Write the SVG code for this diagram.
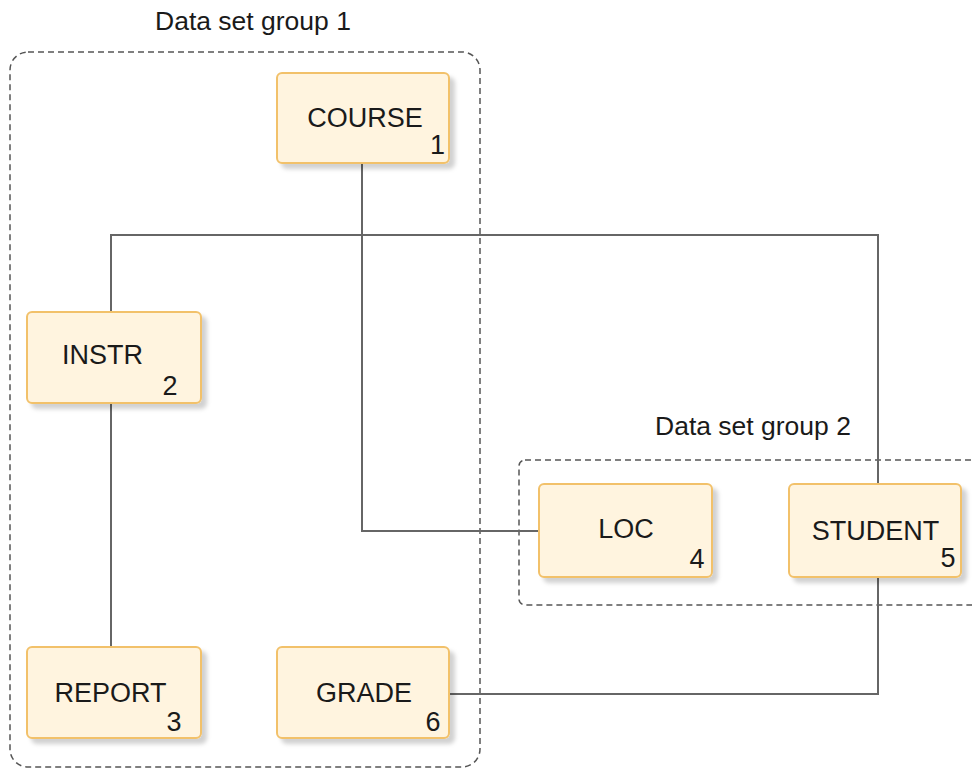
<svg xmlns="http://www.w3.org/2000/svg" width="972" height="771" viewBox="0 0 972 771">
<style>
.grp{fill:none;stroke:#555;stroke-width:1.5;stroke-dasharray:6 4}
.box{fill:#fff4df;stroke:#f2c16a;stroke-width:2}
.lbl{font-family:"Liberation Sans",Arial,sans-serif;font-size:26.5px;fill:#1a1a1a}
.n{font-size:27px}
.c{text-anchor:middle}
.e{text-anchor:end}
.conn{fill:none;stroke:#666;stroke-width:2}
</style>
<defs>
<filter id="sh" x="-10%" y="-10%" width="130%" height="140%">
<feDropShadow dx="5" dy="5" stdDeviation="2" flood-color="#000" flood-opacity="0.18"/>
</filter>
</defs>
<rect width="972" height="771" fill="#fff"/>
<g id="group1">
<rect class="grp" x="10" y="52" width="470" height="715" rx="18"/>
<text class="lbl" x="155" y="30">Data set group 1</text>
</g>
<g id="group2">
<rect class="grp" x="519" y="460" width="480" height="145" rx="6"/>
<text class="lbl" x="655" y="435">Data set group 2</text>
</g>
<g id="connectors">
<polyline class="conn" points="362,163 362,531 539,531"/>
<polyline class="conn" points="111,312 111,235 878,235 878,484"/>
<polyline class="conn" points="111,404 111,647"/>
<polyline class="conn" points="878,577 878,694 449,694"/>
</g>
<g id="course">
<rect class="box" x="277" y="73" width="172" height="90" rx="5" filter="url(#sh)"/>
<text class="lbl n c" x="365" y="127">COURSE</text>
<text class="lbl n e" x="445" y="154">1</text>
</g>
<g id="instr">
<rect class="box" x="27" y="312" width="174" height="91" rx="5" filter="url(#sh)"/>
<text class="lbl n c" x="102.5" y="364">INSTR</text>
<text class="lbl n e" x="177.5" y="395">2</text>
</g>
<g id="report">
<rect class="box" x="27" y="647" width="174" height="91" rx="5" filter="url(#sh)"/>
<text class="lbl n c" x="110.5" y="702">REPORT</text>
<text class="lbl n e" x="181.5" y="731">3</text>
</g>
<g id="grade">
<rect class="box" x="277" y="647" width="172" height="91" rx="5" filter="url(#sh)"/>
<text class="lbl n c" x="364" y="702">GRADE</text>
<text class="lbl n e" x="440.5" y="731">6</text>
</g>
<g id="loc">
<rect class="box" x="539" y="484" width="173" height="93" rx="5" filter="url(#sh)"/>
<text class="lbl n c" x="626" y="538">LOC</text>
<text class="lbl n e" x="704.5" y="568">4</text>
</g>
<g id="student">
<rect class="box" x="789" y="484" width="172" height="93" rx="5" filter="url(#sh)"/>
<text class="lbl n c" x="875.5" y="540">STUDENT</text>
<text class="lbl n e" x="955.5" y="567">5</text>
</g>
</svg>
